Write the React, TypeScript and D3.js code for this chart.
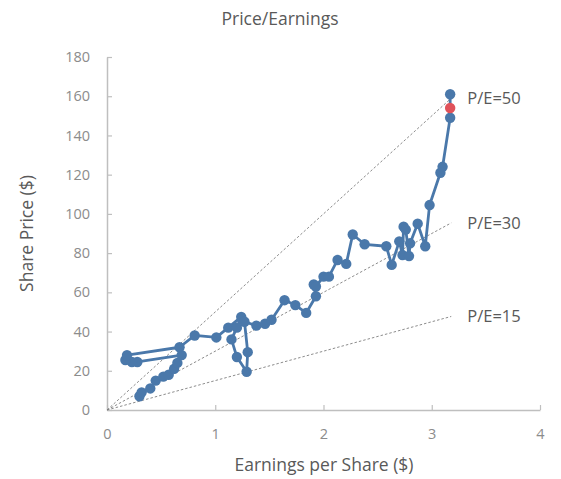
import React, { useEffect, useRef } from 'react';
import * as d3 from 'd3';

// earnings per share ($) and share price ($), in path order
const eps = [0.30, 0.32, 0.40, 0.45, 0.52, 0.57, 0.62, 0.65, 0.69, 0.28, 0.23, 0.17, 0.185, 0.67, 0.81, 1.01, 1.12, 1.24, 1.20, 1.15, 1.20, 1.29, 1.30, 1.27, 1.38, 1.46, 1.52, 1.64, 1.74, 1.84, 1.93, 1.91, 1.93, 2.00, 2.05, 2.13, 2.21, 2.27, 2.38, 2.58, 2.63, 2.70, 2.73, 2.74, 2.76, 2.79, 2.80, 2.87, 2.94, 2.98, 3.08, 3.10, 3.17, 3.17];
const price = [7, 9, 11, 15, 17, 18, 21, 24, 28, 24.5, 24.5, 25.5, 28, 32, 38, 37, 42, 47.5, 42, 36, 27, 19.5, 29.5, 45, 43, 44, 46, 56, 53.5, 49.5, 58, 64, 63, 68, 68, 76.5, 74.5, 89.5, 84.5, 83.5, 74, 86, 79, 93.5, 92, 78.5, 85, 95, 83.5, 104.5, 121, 124, 149, 161];
const currentEps = 3.17;
const currentPrice = 154;
const peRatios = [50, 30, 15];
const peLabels = ['P/E=50', 'P/E=30', 'P/E=15'];
const xTicks = [0, 1, 2, 3, 4];
const yTicks = [0, 20, 40, 60, 80, 100, 120, 140, 160, 180];

const App = () => {
  const svgRef = useRef<SVGSVGElement>(null);

  useEffect(() => {
    const svg = d3.select(svgRef.current);
    svg.selectAll('*').remove();
    const font = 'Open Sans, sans-serif';

    const x = d3.scaleLinear().domain([0, 4]).range([107, 540]);
    const y = d3.scaleLinear().domain([0, 180]).range([410, 57]);

    // title
    svg.append('text')
      .attr('x', 280).attr('y', 25)
      .attr('text-anchor', 'middle')
      .attr('font-family', font).attr('font-size', 17.5)
      .attr('fill', '#595959')
      .text('Price/Earnings');

    // axes
    const xAxis = svg.append('g')
      .attr('transform', `translate(0,${y(0)})`)
      .call(d3.axisBottom(x).tickValues(xTicks).tickFormat(d3.format('d')).tickSizeInner(-5).tickSizeOuter(0).tickPadding(19));
    const yAxis = svg.append('g')
      .attr('transform', `translate(${x(0)},0)`)
      .call(d3.axisLeft(y).tickValues(yTicks).tickSizeInner(-5).tickSizeOuter(0).tickPadding(17));
    [xAxis, yAxis].forEach(g => {
      g.select('.domain').attr('stroke', '#bfbfbf').attr('stroke-width', 1.5);
      g.selectAll('.tick line').attr('stroke', '#bfbfbf').attr('stroke-width', 1.2);
      g.selectAll('.tick text')
        .attr('font-family', font).attr('font-size', 14.5).attr('fill', '#8c8c8c');
    });

    // axis titles
    svg.append('text')
      .attr('x', 324).attr('y', 471)
      .attr('text-anchor', 'middle')
      .attr('font-family', font).attr('font-size', 17.5)
      .attr('fill', '#595959')
      .text('Earnings per Share ($)');
    svg.append('text')
      .attr('transform', `translate(33,${(57 + 410) / 2}) rotate(-90)`)
      .attr('text-anchor', 'middle')
      .attr('font-family', font).attr('font-size', 17.5)
      .attr('fill', '#595959')
      .text('Share Price ($)');

    // P/E reference lines
    const xEnd = 3.18;
    peRatios.forEach((pe, i) => {
      svg.append('line')
        .attr('x1', x(0)).attr('y1', y(0))
        .attr('x2', x(xEnd)).attr('y2', y(pe * xEnd))
        .attr('stroke', '#7f7f7f').attr('stroke-width', 0.9)
        .attr('stroke-dasharray', '2.5,2');
      svg.append('text')
        .attr('x', x(xEnd) + 16).attr('y', y(pe * xEnd) + 6)
        .attr('font-family', font).attr('font-size', 16.5)
        .attr('fill', '#595959')
        .text(peLabels[i]);
    });

    // price path
    const pts = eps.map((e, i) => [e, price[i]] as [number, number]);
    svg.append('path')
      .datum(pts)
      .attr('fill', 'none')
      .attr('stroke', '#4a78aa')
      .attr('stroke-width', 2.8)
      .attr('stroke-linejoin', 'round')
      .attr('d', d3.line<[number, number]>().x(d => x(d[0])).y(d => y(d[1])));

    svg.selectAll('.pt')
      .data(pts)
      .enter()
      .append('circle')
      .attr('class', 'pt')
      .attr('cx', d => x(d[0]))
      .attr('cy', d => y(d[1]))
      .attr('r', 5.2)
      .attr('fill', '#4a78aa');

    svg.append('circle')
      .attr('cx', x(currentEps)).attr('cy', y(currentPrice))
      .attr('r', 5.2)
      .attr('fill', '#e0525a');
  }, []);

  return <svg ref={svgRef} width={561} height={479} style={{ position: 'absolute', left: 0, top: 0 }}></svg>;
};

export default App;
